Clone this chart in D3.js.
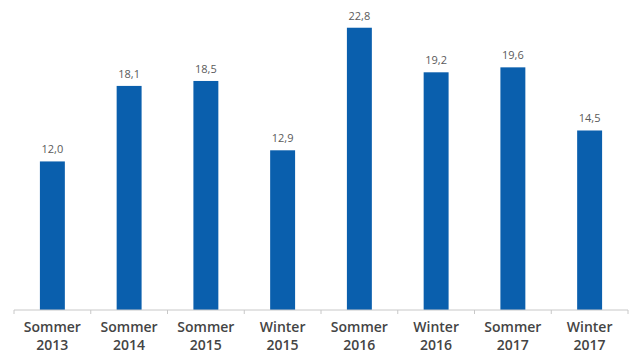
<!DOCTYPE html>
<html>
<head>
<meta charset="utf-8">
<script src="https://cdn.jsdelivr.net/npm/d3@7"></script>
<style>
  body { margin: 0; background: #fff; }
</style>
</head>
<body>
<div id="chart"></div>
<script>
// data
var seasons = ["Sommer", "Sommer", "Sommer", "Winter", "Sommer", "Winter", "Sommer", "Winter"];
var years = ["2013", "2014", "2015", "2015", "2016", "2016", "2017", "2017"];
var values = [12.0, 18.1, 18.5, 12.9, 22.8, 19.2, 19.6, 14.5];

var data = values.map(function(v, i) {
  return { key: seasons[i] + " " + years[i], season: seasons[i], year: years[i], value: v };
});

// dimensions
var width = 633, height = 354;
var margin = { top: 0, right: 5, bottom: 44, left: 14 };
var innerW = width - margin.left - margin.right,
    innerH = height - margin.top - margin.bottom;

var svg = d3.select("#chart")
  .append("svg")
  .attr("width", width)
  .attr("height", height)
  .append("g")
  .attr("transform", "translate(" + margin.left + "," + margin.top + ")");

var x = d3.scaleBand()
  .domain(data.map(function(d) { return d.key; }))
  .range([0, innerW])
  .paddingInner(0.675)
  .paddingOuter(0.3375);

var y = d3.scaleLinear()
  .domain([0, 25.04])
  .range([innerH, 0]);

// bars
svg.selectAll(".bar")
  .data(data)
  .enter()
  .append("rect")
    .attr("class", "bar")
    .attr("x", function(d) { return x(d.key); })
    .attr("y", function(d) { return y(d.value); })
    .attr("width", x.bandwidth())
    .attr("height", function(d) { return innerH - y(d.value); })
    .style("fill", "#0a5fad");

// value labels
svg.selectAll(".val")
  .data(data)
  .enter()
  .append("text")
    .attr("class", "val")
    .attr("x", function(d) { return x(d.key) + x.bandwidth() / 2; })
    .attr("y", function(d) { return y(d.value) - 8; })
    .attr("text-anchor", "middle")
    .style("font-family", "'Open Sans', sans-serif")
    .style("font-size", "11px")
    .style("fill", "#5a5a5a")
    .text(function(d) { return d.value.toFixed(1).replace(".", ","); });

// x axis: line + ticks at band boundaries
var bounds = d3.range(data.length + 1).map(function(i) { return i * innerW / data.length; });

var axis = svg.append("g").attr("transform", "translate(0," + innerH + ")");
axis.append("line")
  .attr("x1", 0).attr("x2", innerW)
  .attr("y1", 0).attr("y2", 0)
  .style("stroke", "#c8c8c8")
  .style("stroke-width", 1);
axis.selectAll(".tick")
  .data(bounds)
  .enter()
  .append("line")
    .attr("class", "tick")
    .attr("x1", function(d) { return d; })
    .attr("x2", function(d) { return d; })
    .attr("y1", 0).attr("y2", 4)
    .style("stroke", "#c8c8c8");

// category labels (two lines)
var lab = axis.selectAll(".lab")
  .data(data)
  .enter()
  .append("text")
    .attr("class", "lab")
    .attr("text-anchor", "middle")
    .style("font-family", "'Open Sans', sans-serif")
    .style("font-size", "14px")
    .style("font-weight", "600")
    .style("fill", "#444");
lab.append("tspan")
  .attr("x", function(d) { return x(d.key) + x.bandwidth() / 2; })
  .attr("y", 22)
  .text(function(d) { return d.season; });
lab.append("tspan")
  .attr("x", function(d) { return x(d.key) + x.bandwidth() / 2; })
  .attr("y", 40)
  .text(function(d) { return d.year; });
</script>
</body>
</html>
